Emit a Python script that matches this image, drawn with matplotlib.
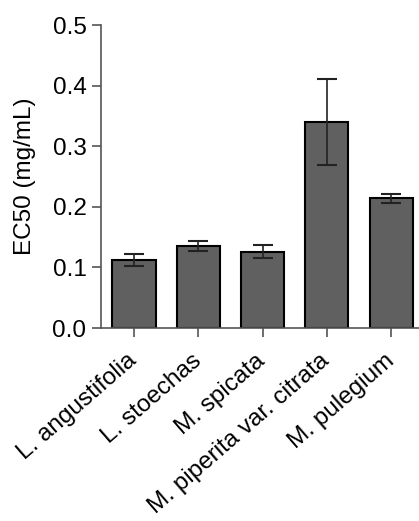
import matplotlib
matplotlib.use('Agg')
import matplotlib.pyplot as plt
import numpy as np

SPECIES = ['L. angustifolia', 'L. stoechas', 'M. spicata',
           'M. piperita var. citrata', 'M. pulegium']
EC50 = [0.112, 0.135, 0.126, 0.340, 0.214]
EC50_ERR = [0.010, 0.008, 0.011, 0.071, 0.007]

plt.rcParams['font.family'] = ['Liberation Sans', 'DejaVu Sans']

fig = plt.figure(figsize=(4.19, 5.21), dpi=100)
ax = fig.add_axes([0.241, 0.3704, 0.759, 0.5816])

x = np.arange(len(SPECIES))
ax.bar(x, EC50, width=0.67, color='#606060', edgecolor='black', linewidth=1.5,
       zorder=2)
ax.errorbar(x, EC50, yerr=EC50_ERR, fmt='none', ecolor='#222222',
            elinewidth=1.2, capsize=7.5, capthick=1.5, zorder=3)

ax.set_xlim(-0.514, 4.435)
ax.set_ylim(0, 0.5)
ax.set_yticks(np.arange(0, 0.51, 0.1))
ax.set_yticklabels([f'{v:.1f}' for v in np.arange(0, 0.51, 0.1)])
ax.set_xticks(x)
ax.set_xticklabels(SPECIES, rotation=41, ha='right', va='center',
                   rotation_mode='anchor')
ax.set_ylabel('EC50 (mg/mL)', fontsize=17.5, labelpad=12)

for side in ('top', 'right'):
    ax.spines[side].set_visible(False)
for side in ('left', 'bottom'):
    ax.spines[side].set_color('#555555')
    ax.spines[side].set_linewidth(1.2)
ax.tick_params(axis='both', direction='out', length=6.5, width=1.2,
               color='#555555', labelsize=17.5, pad=4)
ax.tick_params(axis='x', pad=15)

fig.savefig('out.png', dpi=100)
